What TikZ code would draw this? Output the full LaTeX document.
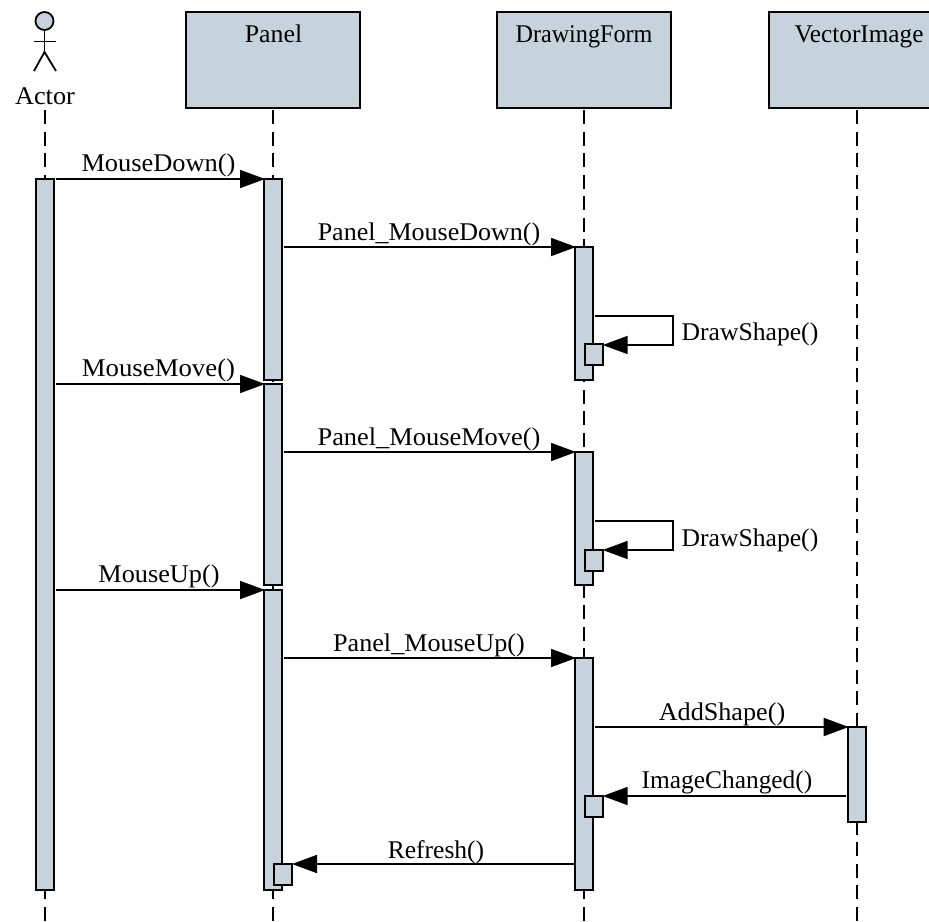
\documentclass[tikz,border=0pt]{standalone}
\usepackage{fontspec}
\setmainfont{Liberation Serif}
\usetikzlibrary{arrows.meta}
\definecolor{uml}{HTML}{C6D3DC}
\tikzset{
  x=1pt,y=-1pt,
  obj/.style={draw=black,fill=uml,line width=2.1pt,minimum width=174pt,minimum height=96pt,anchor=north west,inner sep=0,outer sep=0},
  bar/.style={draw=black,fill=uml,line width=2.1pt,minimum width=18pt,anchor=north,inner sep=0,outer sep=0},
  smallbar/.style={draw=black,fill=uml,line width=2.1pt,minimum width=18pt,minimum height=21pt,anchor=north,inner sep=0,outer sep=0},
  life/.style={draw=black,line width=2pt,dash pattern=on 14pt off 7.53pt},
  msg/.style={draw=black,line width=1.8pt,-{Triangle[length=25pt,width=18pt]},shorten <=1.5pt},
  msgr/.style={msg,shorten >=-1pt},
  lbl/.style={inner sep=0,outer sep=0,anchor=base,font=\fontsize{25.5pt}{27pt}\selectfont,text=black},
  stick/.style={draw=black,line width=1.8pt}
}
\newcommand{\wide}[2]{\scalebox{#1}[1]{#2}}
\begin{document}
\begin{tikzpicture}
\useasboundingbox (0,0) rectangle (929,921);
% lifelines
\coordinate (la) at (45,110); \coordinate (lae) at (45,921);
\coordinate (lp) at (273,110); \coordinate (lpe) at (273,921);
\coordinate (ld) at (584,110); \coordinate (lde) at (584,921);
\coordinate (lv) at (856.7,110); \coordinate (lve) at (856.7,921);
\draw[life] (la)--(lae);
\draw[life] (lp)--(lpe);
\draw[life] (ld)--(lde);
\draw[life] (lv)--(lve);
% objects
\node[obj] (panel) at (186,12) {};
\node[obj] (form) at (497,12) {};
\node[obj] (vec) at (769,12) {};
\node[lbl] (tp) at (273.5,42) {\wide{1.014}{Panel}};
\node[lbl] (td) at (584,42) {\wide{0.947}{DrawingForm}};
\node[lbl] (tv) at (859,42) {\wide{0.99}{VectorImage}};
% actor
\node[draw=black,fill=uml,circle,line width=1.8pt,minimum size=18pt,inner sep=0,outer sep=0] (head) at (44.5,21) {};
\coordinate (hip) at (44.5,52);
\coordinate (armL) at (34,41.5); \coordinate (armR) at (56,41.5);
\coordinate (legL) at (34,71); \coordinate (legR) at (56,71);
\draw[stick] (head.south)--(hip);
\draw[stick] (armL)--(armR);
\draw[stick] (legL)--(hip)--(legR);
\node[lbl] (ta) at (45,104) {\wide{1.03}{Actor}};
% bars
\node[bar,minimum height=711pt] (a1) at (45,179) {};
\node[bar,minimum height=201pt] (p1) at (273,179) {};
\node[bar,minimum height=201pt] (p2) at (273,384) {};
\node[bar,minimum height=300pt] (p3) at (273,590) {};
\node[bar,minimum height=133pt] (d1) at (584,247) {};
\node[bar,minimum height=133pt] (d2) at (584,452) {};
\node[bar,minimum height=232pt] (d3) at (584,658) {};
\node[bar,minimum height=95pt] (v1) at (856.7,727) {};
\node[smallbar] (s1) at (593.7,344) {};
\node[smallbar] (s2) at (593.7,550) {};
\node[smallbar] (s3) at (593.7,796) {};
\node[smallbar] (s4) at (283,864) {};
% messages
\draw[msgr] (a1.north east)--(p1.north west);
\draw[msgr] (p1.east |- d1.north)--(d1.north west);
\draw[msgr] (a1.east |- p2.north)--(p2.north west);
\draw[msgr] (p2.east |- d2.north)--(d2.north west);
\draw[msgr] (a1.east |- p3.north)--(p3.north west);
\draw[msgr] (p3.east |- d3.north)--(d3.north west);
\draw[msgr] (d3.east |- v1.north)--(v1.north west);
\draw[msg] (v1.west |- s3.north)--(s3.north east);
\draw[msg] (d3.west |- s4.north)--(s4.north east);
\coordinate (c1a) at (673,316); \coordinate (c1b) at (673,345);
\coordinate (c2a) at (673,521); \coordinate (c2b) at (673,550);
\draw[msg] (d1.east |- c1a)--(c1a)--(c1b)--(s1.north east |- c1b);
\draw[msg] (d2.east |- c2a)--(c2a)--(c2b)--(s2.north east |- c2b);
% labels
\node[lbl] (m1) at (158.5,171) {\wide{1.035}{MouseDown()}};
\node[lbl] (m2) at (429,240) {\wide{1.02}{Panel\_MouseDown()}};
\node[lbl] (m3) at (750,340) {\wide{1.005}{DrawShape()}};
\node[lbl] (m4) at (158.5,376) {\wide{1.05}{MouseMove()}};
\node[lbl] (m5) at (429,445) {\wide{1.035}{Panel\_MouseMove()}};
\node[lbl] (m6) at (750,546) {\wide{1.005}{DrawShape()}};
\node[lbl] (m7) at (159,582) {\wide{1.03}{MouseUp()}};
\node[lbl] (m8) at (429,651) {\wide{1.025}{Panel\_MouseUp()}};
\node[lbl] (m9) at (722,720) {\wide{1.026}{AddShape()}};
\node[lbl] (m10) at (727,788) {\wide{0.996}{ImageChanged()}};
\node[lbl] (m11) at (436,858) {\wide{1.002}{Refresh()}};
\end{tikzpicture}
\end{document}
